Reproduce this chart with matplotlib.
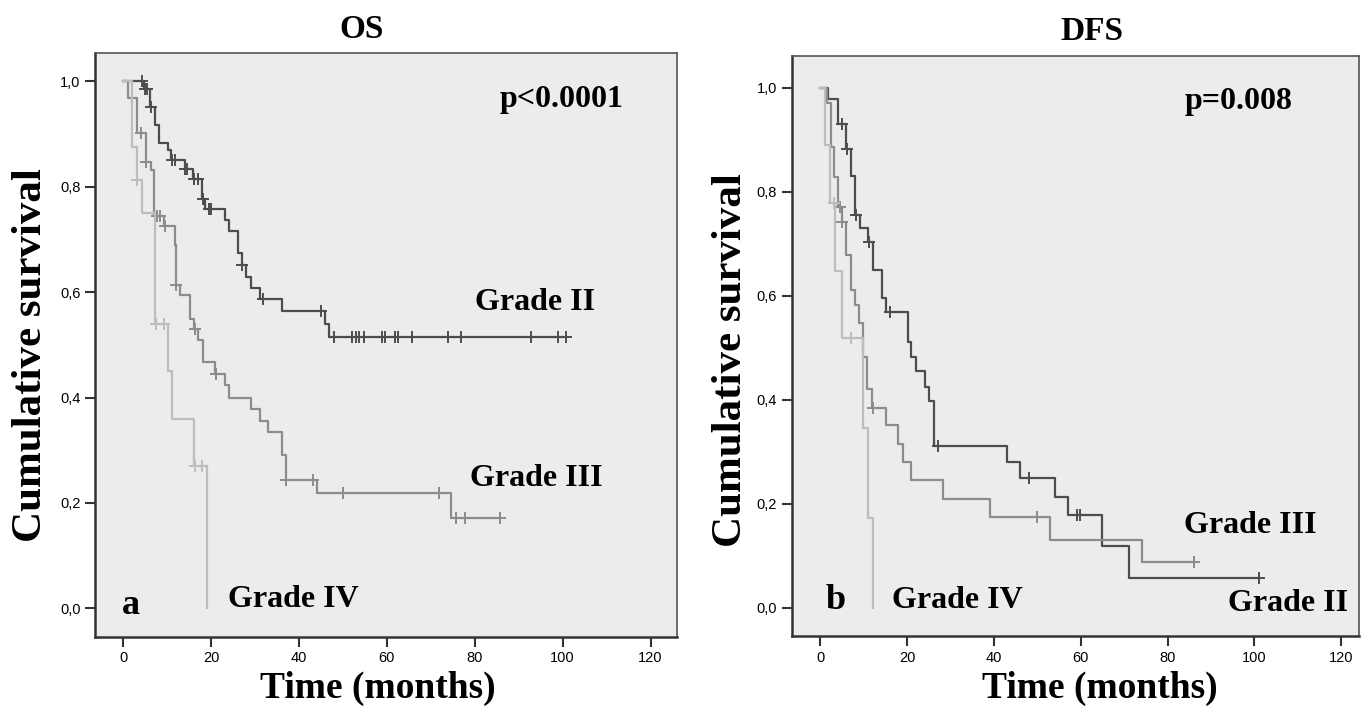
import numpy as np
import matplotlib.pyplot as plt

# ---- OS (panel a) ----
os_g2_t = [0, 4.8, 6.1, 7.2, 8.2, 10.2, 10.8, 14.0, 16.0, 18.0, 18.7, 23.2, 24.0, 26.2,
           27.0, 28.0, 29.1, 31.1, 36.2, 45.9, 46.9]
os_g2_s = [1.0, 0.985, 0.951, 0.917, 0.884, 0.869, 0.851, 0.833, 0.815, 0.777, 0.757,
           0.737, 0.716, 0.674, 0.652, 0.629, 0.608, 0.587, 0.564, 0.539, 0.515]
os_g2_c = [4.2, 5.0, 5.4, 6.3, 11.1, 11.8, 14.1, 14.6, 16.2, 17.1, 18.2, 19.5, 20.0,
           27.1, 31.9, 45.0, 48.0, 52.0, 52.9, 53.7, 54.8, 58.8, 59.6, 61.8, 62.6, 65.8,
           73.9, 76.8, 92.9, 98.9, 100.8]

os_g3_t = [0, 1.2, 3.1, 5.2, 6.4, 7.1, 9.2, 11.8, 12.0, 13.0, 15.2, 16.1, 17.1, 18.1,
           21.0, 23.2, 24.2, 29.2, 31.1, 33.0, 36.1, 37.0, 44.0, 74.7]
os_g3_s = [1.0, 0.968, 0.902, 0.847, 0.832, 0.745, 0.726, 0.690, 0.613, 0.594, 0.550,
           0.531, 0.509, 0.467, 0.445, 0.424, 0.400, 0.378, 0.356, 0.334, 0.290, 0.243,
           0.218, 0.172]
os_g3_c = [4.1, 5.3, 7.7, 8.4, 9.5, 12.1, 16.4, 21.1, 37.1, 43.1, 50.1, 71.9, 75.8,
           77.7, 85.8]

os_g4_t = [0, 2.1, 3.1, 4.2, 7.3, 10.2, 11.2, 16.2, 19.0]
os_g4_s = [1.0, 0.875, 0.8125, 0.75, 0.54, 0.451, 0.359, 0.27, 0.0]
os_g4_c = [3.2, 7.4, 9.2, 16.4, 18.0]

# ---- DFS (panel b) ----
dfs_g2_t = [0, 1.85, 4.0, 5.9, 7.0, 8.0, 9.1, 11.05, 12.05, 14.1, 15.1, 20.1, 21.0,
            22.0, 24.1, 25.1, 26.2, 43.1, 46.1, 54.1, 57.1, 65.0, 71.1]
dfs_g2_s = [1.0, 0.978, 0.931, 0.882, 0.830, 0.755, 0.730, 0.703, 0.649, 0.595, 0.569,
            0.512, 0.483, 0.455, 0.425, 0.398, 0.312, 0.281, 0.250, 0.213, 0.178,
            0.119, 0.058]
dfs_g2_c = [5.0, 6.1, 8.2, 11.2, 16.0, 27.0, 48.1, 59.2, 59.9, 101.0]

dfs_g3_t = [0, 1.5, 2.4, 3.2, 4.1, 5.0, 5.9, 7.0, 8.0, 9.0, 9.9, 10.8, 11.8, 15.1,
            18.0, 19.1, 21.0, 28.2, 39.1, 53.0, 74.2]
dfs_g3_s = [1.0, 0.971, 0.886, 0.829, 0.771, 0.742, 0.678, 0.612, 0.582, 0.548, 0.483,
            0.420, 0.385, 0.351, 0.316, 0.280, 0.246, 0.210, 0.175, 0.131, 0.088]
dfs_g3_c = [4.5, 5.1, 12.1, 49.9, 86.0]

dfs_g4_t = [0, 1.1, 2.2, 3.3, 4.9, 9.9, 11.0, 12.2]
dfs_g4_s = [1.0, 0.889, 0.778, 0.648, 0.518, 0.345, 0.173, 0.0]
dfs_g4_c = [3.1, 7.0]

c2 = '#4d4d4d'
c3 = '#8c8c8c'
c4 = '#bdbdbd'

serif = 'Liberation Serif'
sans = 'Liberation Sans'


def km(ax, t, s, cens, color):
    end = max(t[-1], max(cens))
    tt = list(t) + [end]
    ss = list(s) + [s[-1]]
    ax.step(tt, ss, where='post', color=color, lw=1.6)
    t = np.array(t)
    cy = [s[np.searchsorted(t, c, side='right') - 1] for c in cens]
    ax.plot(cens, cy, '+', color=color, ms=8, mew=1.4)


def style(ax, xlim, ylim):
    ax.set_facecolor('#ececec')
    ax.set_xlim(*xlim)
    ax.set_ylim(*ylim)
    ax.set_xticks([0, 20, 40, 60, 80, 100, 120])
    ax.set_yticks([0, 0.2, 0.4, 0.6, 0.8, 1.0])
    ax.set_yticklabels(['0,0', '0,2', '0,4', '0,6', '0,8', '1,0'])
    for sp in ['left', 'bottom']:
        ax.spines[sp].set_linewidth(1.8)
        ax.spines[sp].set_color('#333333')
    for sp in ['top', 'right']:
        ax.spines[sp].set_linewidth(1.2)
        ax.spines[sp].set_color('#555555')
    ax.tick_params(direction='out', length=7, width=1.5, color='#333333',
                   top=False, right=False, labelsize=10.5)
    for lab in ax.get_xticklabels() + ax.get_yticklabels():
        lab.set_family(sans)


fig = plt.figure(figsize=(13.61, 7.10), dpi=100)
ax1 = fig.add_axes([0.0698, 0.1032, 0.4276, 0.8222])
ax2 = fig.add_axes([0.5817, 0.1042, 0.4168, 0.8170])

km(ax1, os_g2_t, os_g2_s, os_g2_c, c2)
km(ax1, os_g3_t, os_g3_s, os_g3_c, c3)
km(ax1, os_g4_t, os_g4_s, os_g4_c, c4)
style(ax1, (-6.4, 126), (-0.054, 1.054))

km(ax2, dfs_g2_t, dfs_g2_s, dfs_g2_c, c2)
km(ax2, dfs_g3_t, dfs_g3_s, dfs_g3_c, c3)
km(ax2, dfs_g4_t, dfs_g4_s, dfs_g4_c, c4)
style(ax2, (-6.6, 124.1), (-0.054, 1.061))

bold = dict(family=serif, weight='bold')

ax1.text(85.6, 0.965, 'p<0.0001', fontsize=23, va='center', **bold)
ax1.text(80, 0.58, 'Grade II', fontsize=23, va='center', **bold)
ax1.text(79, 0.247, 'Grade III', fontsize=23, va='center', **bold)
ax1.text(23.8, 0.016, 'Grade IV', fontsize=23, va='center', **bold)
ax1.text(-0.3, 0.006, 'a', fontsize=26, va='center', **bold)

ax2.text(83.9, 0.973, 'p=0.008', fontsize=23, va='center', **bold)
ax2.text(83.9, 0.159, 'Grade III', fontsize=23, va='center', **bold)
ax2.text(93.9, 0.009, 'Grade II', fontsize=23, va='center', **bold)
ax2.text(16.4, 0.015, 'Grade IV', fontsize=23, va='center', **bold)
ax2.text(1.1, 0.015, 'b', fontsize=26, va='center', **bold)

fig.text(362 / 1361, 1 - 30 / 710, 'OS', fontsize=24, ha='center', va='center', **bold)
fig.text(1092 / 1361, 1 - 32 / 710, 'DFS', fontsize=24, ha='center', va='center', **bold)

fig.text(31 / 1361, 1 - 355 / 710, 'Cumulative survival', fontsize=31, rotation=90,
         ha='center', va='center', **bold)
fig.text(731 / 1361, 1 - 360 / 710, 'Cumulative survival', fontsize=31, rotation=90,
         ha='center', va='center', **bold)
fig.text(378 / 1361, 1 - 688 / 710, 'Time (months)', fontsize=27,
         ha='center', va='center', **bold)
fig.text(1100 / 1361, 1 - 688 / 710, 'Time (months)', fontsize=27,
         ha='center', va='center', **bold)

fig.savefig('out.png', dpi=100, facecolor='white')
